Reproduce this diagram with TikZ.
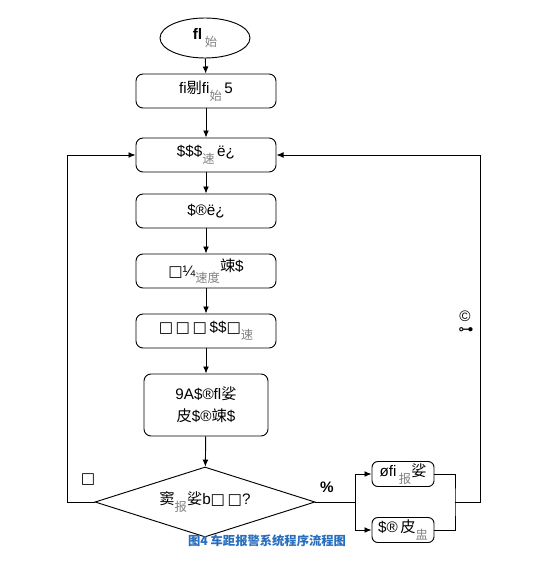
\documentclass[tikz,border=0pt]{standalone}
\usepackage{fontspec}
\setmainfont{Liberation Sans}
\newfontfamily\cjk{Noto Sans CJK SC}
\newfontfamily\symf{DejaVu Sans}
\usetikzlibrary{arrows.meta, shapes.geometric, calc}
\definecolor{capcolor}{RGB}{40, 110, 190}
\newcommand{\lowzh}[1]{\raisebox{-0.8ex}{\cjk\color{black!50}\fontsize{10.5}{12}\selectfont #1}}
\newcommand{\zh}[1]{{\cjk #1}}
\newcommand{\sq}{{\symf\char"25A1}}
\tikzset{
	procbox/.style={
		rectangle, rounded corners=6pt,
		minimum width=4.2cm, minimum height=1.02cm,
		align=center, font=\fontsize{13}{15}\selectfont,
		draw=black, line width=0.8pt
	},
	endbox/.style={
		ellipse, minimum width=2.7cm, minimum height=1.2cm,
		font=\fontsize{13}{15}\selectfont,
		draw=black, line width=0.8pt
	},
	decbox/.style={
		diamond, aspect=3.14, inner sep=0pt,
		minimum width=6.6cm, minimum height=2.1cm,
		font=\fontsize{13}{15}\selectfont,
		draw=black, line width=0.8pt
	},
	alarmbox/.style={
		rectangle, rounded corners=5pt, inner sep=2pt,
		minimum width=1.86cm, minimum height=0.75cm,
		font=\fontsize{13}{15}\selectfont,
		draw=black, line width=0.8pt
	},
	arrow/.style={
		-{Latex[length=6pt, width=5pt]}, line width=0.8pt, color=black
	},
	line/.style={line width=0.8pt, color=black},
	tag/.style={font=\fontsize{13}{15}\selectfont}
}
\begin{document}
\begin{tikzpicture}
	\useasboundingbox (0,0) rectangle (16.77,-17.01);
	
	%% main column
	\node[endbox] (start) at (6.15,-1.14) {\textbf{ﬂ}\,\lowzh{始}};
	\node[procbox] (init) at (6.18,-2.73) {ﬁ\zh{剔}ﬁ\lowzh{始}\,5};
	\node[procbox] (speed) at (6.18,-4.65) {\$\$\$\lowzh{速}\,ë¿};
	\node[procbox] (dist) at (6.18,-6.33) {\$®ë¿};
	\node[procbox] (calc) at (6.18,-8.13) {\sq¼\lowzh{速度}\raisebox{0.6ex}{\zh{竦}\$}};
	\node[procbox] (show) at (6.18,-9.93) {\sq\,\sq\,\sq\,\$\$\sq\lowzh{速}};
	\node[procbox, minimum width=3.72cm, minimum height=1.86cm] (safe) at (6.18,-12.15)
		{9A\$®ﬂ\zh{娑}\\[4pt]\zh{皮}\$®\zh{竦}\$};
	\node[decbox] (check) at (6.15,-15.06) {\zh{窦}\lowzh{报}\zh{娑}b\sq\,\sq?};
	
	%% alarm outputs
	\node[alarmbox] (alarm) at (12.09,-14.22) {øﬁ\,\lowzh{报}\zh{娑}};
	\node[alarmbox] (brake) at (12.09,-15.90) {\$®\,\zh{皮}\lowzh{盅}};
	
	\coordinate (split) at (10.65,-15.06);
	\coordinate (rjoin) at (13.65,-15.06);
	\coordinate (rback) at (14.40,-15.06);
	\coordinate (lback) at (2.01,-15.06);
	
	%% arrows
	\draw[arrow] (start) -- (init);
	\draw[arrow] (init) -- (speed);
	\draw[arrow] (speed) -- (dist);
	\draw[arrow] (dist) -- (calc);
	\draw[arrow] (calc) -- (show);
	\draw[arrow] (show) -- (safe);
	\draw[arrow] (safe) -- (check);
	
	\draw[line] (check.east) -- (split);
	\draw[arrow] (split) |- (alarm.west);
	\draw[arrow] (split) |- (brake.west);
	
	\draw[line] (alarm.east) -| (rjoin) |- (brake.east);
	\draw[arrow] (rjoin) -- (rback) |- (speed.east);
	\draw[arrow] (check.west) -- (lback) |- (speed.west);
	
	%% branch labels
	\node[tag] (nolbl) at (2.64,-14.40) {\sq};
	\node[tag] (yeslbl) at (9.81,-14.61) {\textbf{\%}};
	\node[tag] (retlbl) at (13.95,-9.48) {©};
	\node[tag] (retsym) at (13.98,-9.93) {\symf ⊶};
	
	\node[font=\cjk\bfseries\fontsize{10.5}{12}\selectfont, text=capcolor] (caption) at (8.01,-16.23)
		{图4\ 车距报警系统程序流程图};
\end{tikzpicture}
\end{document}
